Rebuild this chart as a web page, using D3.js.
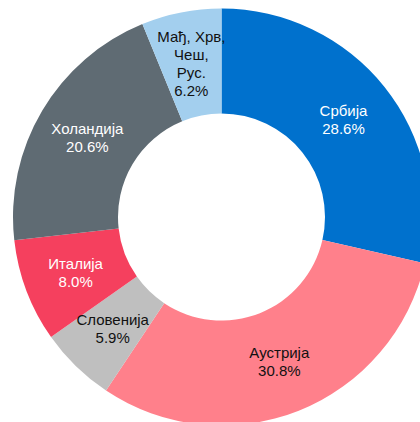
<!DOCTYPE html>
<html>
<head>
<meta charset="utf-8">
<script src="https://cdn.jsdelivr.net/npm/d3@7"></script>
<style>
  body { margin: 0; background: #fff; overflow: hidden; }
  svg { display: block; }
</style>
</head>
<body>
<div id="chart"></div>
<script>
// data, clockwise from 12 o'clock
var countries = ["Србија", "Аустрија", "Словенија", "Италија", "Холандија", "Мађ, Хрв, Чеш, Рус."];
var labelLines = [["Србија"], ["Аустрија"], ["Словенија"], ["Италија"], ["Холандија"], ["Мађ, Хрв,", "Чеш,", "Рус."]];
var shares = [28.6, 30.8, 5.9, 8.0, 20.6, 6.2];
var colors = ["#0071CD", "#FF808B", "#BFBFBF", "#F5405E", "#5F6B73", "#A3CFEE"];
var textColors = ["#fff", "#111", "#111", "#fff", "#fff", "#111"];

var width = 420, height = 422;
var cx = 221.5, cy = 217;
var outerR = 208.5, innerR = 103.5;

var svg = d3.select("#chart").append("svg")
    .attr("width", width)
    .attr("height", height);

var g = svg.append("g").attr("transform", "translate(" + cx + "," + cy + ")");

var pie = d3.pie().sort(null).value(function (d) { return d; });
var arc = d3.arc().innerRadius(innerR).outerRadius(outerR);

var arcs = pie(shares);

g.selectAll("path.slice")
    .data(arcs)
    .enter().append("path")
    .attr("class", "slice")
    .attr("d", arc)
    .attr("fill", function (d, i) { return colors[i]; });

// labels at the slice centroid
var lineH = 18;
var labels = g.selectAll("text.lbl")
    .data(arcs)
    .enter().append("text")
    .attr("class", "lbl")
    .attr("text-anchor", "middle")
    .attr("font-family", "'Liberation Sans', Arial, sans-serif")
    .attr("font-size", "15px")
    .attr("fill", function (d, i) { return textColors[i]; })
    .attr("transform", function (d) {
        var c = arc.centroid(d);
        return "translate(" + c[0] + "," + c[1] + ")";
    });

labels.each(function (d, i) {
    var lines = labelLines[i].concat([shares[i].toFixed(1) + "%"]);
    var top = -(lines.length - 1) * lineH / 2;
    var t = d3.select(this);
    lines.forEach(function (s, k) {
        t.append("tspan")
            .attr("x", 0)
            .attr("y", top + k * lineH)
            .attr("dy", "0.35em")
            .text(s);
    });
});
</script>
</body>
</html>
